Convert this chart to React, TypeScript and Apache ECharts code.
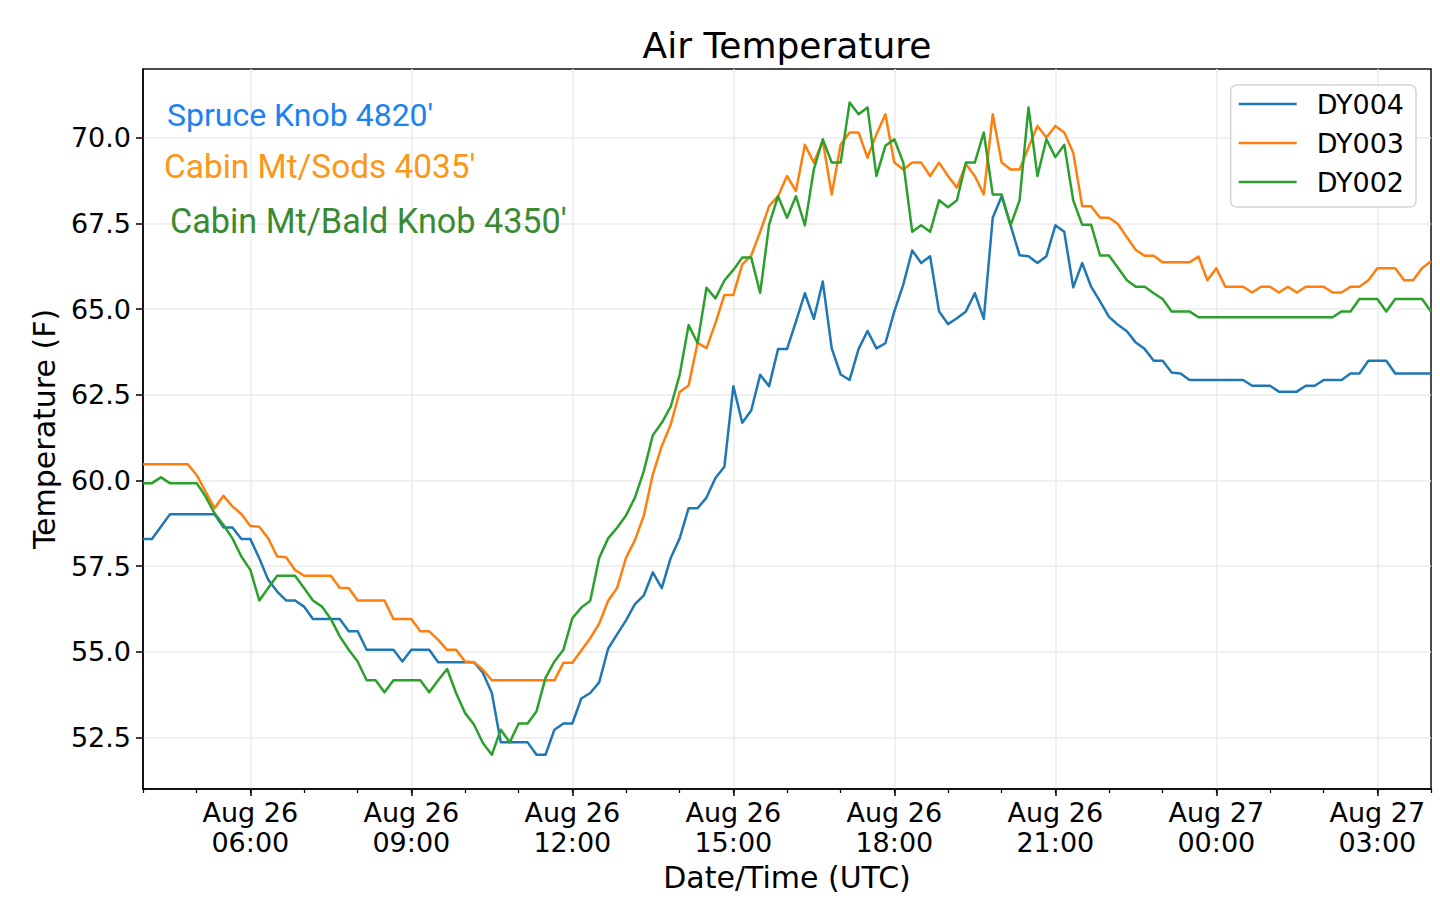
import { useEffect, useRef } from "react";
import * as echarts from "echarts";

// Samples every 10 minutes starting Aug 26 04:00 UTC (x = hours since Aug 26 00:00 UTC)
const START_HOUR = 4;
const STEP_MINUTES = 10;

const SERIES_NAMES = ["DY004", "DY003", "DY002"];
const SERIES_COLORS = ["#1f77b4", "#ff7f0e", "#2ca02c"];

const DY004 = [
  58.29, 58.29, 58.65, 59.01, 59.01, 59.01, 59.01, 59.01, 59.01, 58.63,
  58.63, 58.29, 58.29, 57.73, 57.1, 56.76, 56.5, 56.5, 56.32, 55.96,
  55.96, 55.96, 55.96, 55.6, 55.6, 55.06, 55.06, 55.06, 55.06, 54.72,
  55.06, 55.06, 55.06, 54.7, 54.7, 54.7, 54.7, 54.7, 54.39, 53.8,
  52.36, 52.36, 52.36, 52.36, 52.0, 52.0, 52.73, 52.91, 52.91, 53.64,
  53.8, 54.11, 55.09, 55.51, 55.92, 56.39, 56.65, 57.32, 56.86, 57.74,
  58.31, 59.19, 59.19, 59.5, 60.07, 60.4, 62.75, 61.68, 62.04, 63.08,
  62.75, 63.83, 63.83, 64.63, 65.46, 64.71, 65.8, 63.85, 63.09, 62.93,
  63.83, 64.36, 63.85, 64.0, 64.93, 65.71, 66.71, 66.34, 66.54, 64.93,
  64.56, 64.73, 64.93, 65.46, 64.71, 67.66, 68.29, 67.44, 66.57, 66.54,
  66.34, 66.54, 67.44, 67.25, 65.63, 66.34, 65.65, 65.22, 64.77, 64.54,
  64.35, 64.02, 63.83, 63.49, 63.49, 63.15, 63.12, 62.93, 62.93, 62.93,
  62.93, 62.93, 62.93, 62.93, 62.76, 62.76, 62.76, 62.59, 62.59, 62.59,
  62.76, 62.76, 62.93, 62.93, 62.93, 63.12, 63.12, 63.49, 63.49, 63.49,
  63.12, 63.12, 63.12, 63.12, 63.12,
];

const DY003 = [
  60.47, 60.47, 60.47, 60.47, 60.47, 60.47, 60.16, 59.67, 59.19, 59.55,
  59.24, 59.02, 58.67, 58.65, 58.31, 57.78, 57.76, 57.39, 57.22, 57.22,
  57.22, 57.22, 56.86, 56.86, 56.5, 56.5, 56.5, 56.5, 55.96, 55.96,
  55.96, 55.6, 55.6, 55.35, 55.06, 55.06, 54.72, 54.7, 54.48, 54.17,
  54.17, 54.17, 54.17, 54.17, 54.17, 54.17, 54.17, 54.68, 54.68, 55.04,
  55.4, 55.82, 56.49, 56.86, 57.74, 58.26, 58.98, 60.18, 61.0, 61.63,
  62.58, 62.77, 64.01, 63.86, 64.59, 65.41, 65.41, 66.3, 66.56, 67.25,
  68.0, 68.29, 68.88, 68.44, 69.79, 69.27, 69.9, 68.34, 69.8, 70.15,
  70.15, 69.41, 70.1, 70.68, 69.27, 69.07, 69.27, 69.27, 68.88, 69.27,
  68.88, 68.54, 69.22, 68.88, 68.34, 70.68, 69.27, 69.07, 69.07, 69.71,
  70.34, 70.0, 70.34, 70.15, 69.56, 68.0, 68.0, 67.66, 67.66, 67.48,
  67.09, 66.72, 66.55, 66.55, 66.36, 66.36, 66.36, 66.36, 66.53, 65.84,
  66.19, 65.65, 65.65, 65.65, 65.48, 65.65, 65.65, 65.48, 65.65, 65.48,
  65.65, 65.65, 65.65, 65.48, 65.48, 65.65, 65.65, 65.84, 66.19, 66.19,
  66.19, 65.84, 65.84, 66.19, 66.39,
];

const DY002 = [
  59.92, 59.92, 60.09, 59.92, 59.92, 59.92, 59.92, 59.53, 59.04, 58.7,
  58.31, 57.78, 57.39, 56.5, 56.86, 57.22, 57.22, 57.22, 56.86, 56.5,
  56.32, 55.96, 55.45, 55.06, 54.72, 54.17, 54.17, 53.82, 54.17, 54.17,
  54.17, 54.17, 53.82, 54.17, 54.5, 53.8, 53.22, 52.88, 52.34, 52.0,
  52.73, 52.36, 52.91, 52.91, 53.27, 54.24, 54.72, 55.06, 55.98, 56.29,
  56.49, 57.74, 58.31, 58.62, 58.98, 59.5, 60.28, 61.32, 61.68, 62.15,
  63.08, 64.53, 64.01, 65.62, 65.31, 65.83, 66.14, 66.5, 66.5, 65.47,
  67.46, 68.29, 67.66, 68.29, 67.44, 69.07, 69.95, 69.27, 69.27, 71.02,
  70.68, 70.88, 68.88, 69.76, 69.95, 69.27, 67.25, 67.44, 67.25, 68.17,
  67.97, 68.17, 69.27, 69.27, 70.15, 68.34, 68.34, 67.44, 68.17, 70.88,
  68.88, 69.95, 69.43, 69.79, 68.17, 67.46, 67.46, 66.56, 66.56, 66.2,
  65.84, 65.65, 65.65, 65.46, 65.29, 64.93, 64.93, 64.93, 64.76, 64.76,
  64.76, 64.76, 64.76, 64.76, 64.76, 64.76, 64.76, 64.76, 64.76, 64.76,
  64.76, 64.76, 64.76, 64.76, 64.93, 64.93, 65.29, 65.29, 65.29, 64.93,
  65.29, 65.29, 65.29, 65.29, 64.93,
];

const SERIES_VALUES = [DY004, DY003, DY002];

// Axis ticks (hours since Aug 26 00:00 UTC) and temperature ticks
const X_MIN = 4;
const X_MAX = 28;
const X_MAJOR_TICKS = [6, 9, 12, 15, 18, 21, 24, 27];
const Y_MIN = 51;
const Y_MAX = 72;
const Y_TICKS = [52.5, 55, 57.5, 60, 62.5, 65, 67.5, 70];

const ANNOTATION_TEXTS = ["Spruce Knob 4820'", "Cabin Mt/Sods 4035'", "Cabin Mt/Bald Knob 4350'"];
const ANNOTATION_COLORS = ["#1c82f2", "#fb9719", "#3a8a34"];

const TITLE = "Air Temperature";
const X_NAME = "Date/Time (UTC)";
const Y_NAME = "Temperature (F)";

const FONT = "DejaVu Sans";

function formatXLabel(v: number): string {
  const day = v >= 24 ? 27 : 26;
  const h = Math.round(v) % 24;
  return `Aug ${day}\n${String(h).padStart(2, "0")}:00`;
}

export default function App() {
  const ref = useRef<HTMLDivElement>(null);

  useEffect(() => {
    if (!ref.current) return;
    const chart = echarts.init(ref.current, undefined, { renderer: "svg" });

    const annLayout = [
      { x: 167, y: 114.5, size: 32 },
      { x: 164, y: 166, size: 33.4 },
      { x: 170, y: 220.5, size: 34.2 },
    ];

    const option: any = {
      animation: false,
      backgroundColor: "#ffffff",
      title: {
        text: TITLE,
        left: 787,
        top: 27,
        textAlign: "center",
        padding: 0,
        textStyle: { fontFamily: FONT, fontSize: 36, fontWeight: "normal", color: "#000" },
      },
      grid: {
        left: 143,
        right: 9,
        top: 69,
        bottom: 125,
        containLabel: false,
        outerBoundsMode: "none",
        show: true,
        borderColor: "#111",
        borderWidth: 1.5,
        backgroundColor: "transparent",
      },
      legend: {
        data: SERIES_NAMES,
        orient: "vertical",
        right: 24,
        top: 85,
        icon: "rect",
        itemWidth: 58,
        itemHeight: 2.5,
        itemGap: 9,
        padding: [4, 12, 10, 8],
        backgroundColor: "rgba(255,255,255,0.85)",
        borderColor: "#d4d4d4",
        borderWidth: 1.5,
        borderRadius: 6,
        textStyle: {
          fontFamily: FONT,
          fontSize: 27,
          color: "#000",
          lineHeight: 30,
          padding: [0, 0, 0, 15],
        },
      },
      xAxis: [
        {
          type: "value",
          min: X_MIN,
          max: X_MAX,
          name: X_NAME,
          nameLocation: "middle",
          nameGap: 73,
          nameTextStyle: { fontFamily: FONT, fontSize: 30, color: "#000" },
          axisLine: { show: true, onZero: false, lineStyle: { color: "#000", width: 1.5 } },
          axisTick: {
            show: true,
            customValues: X_MAJOR_TICKS,
            length: 7,
            lineStyle: { color: "#000", width: 1.5 },
          },
          axisLabel: {
            show: true,
            customValues: X_MAJOR_TICKS,
            formatter: formatXLabel,
            fontFamily: FONT,
            fontSize: 27,
            lineHeight: 29.5,
            color: "#000",
            margin: 9,
          },
          splitLine: { show: true, lineStyle: { color: "#ebebeb", width: 1.5 } },
        },
        {
          type: "value",
          min: X_MIN,
          max: X_MAX,
          interval: 1,
          position: "bottom",
          axisLine: { show: false },
          axisTick: { show: true, length: 4, lineStyle: { color: "#000", width: 1.2 } },
          axisLabel: { show: false },
          splitLine: { show: false },
        },
      ],
      yAxis: {
        type: "value",
        min: Y_MIN,
        max: Y_MAX,
        name: Y_NAME,
        nameLocation: "middle",
        nameGap: 84,
        nameRotate: 90,
        nameTextStyle: { fontFamily: FONT, fontSize: 30, color: "#000" },
        axisLine: { show: true, onZero: false, lineStyle: { color: "#000", width: 1.5 } },
        axisTick: {
          show: true,
          customValues: Y_TICKS,
          length: 7,
          lineStyle: { color: "#000", width: 1.5 },
        },
        axisLabel: {
          show: true,
          customValues: Y_TICKS,
          formatter: (v: number) => v.toFixed(1),
          fontFamily: FONT,
          fontSize: 27,
          color: "#000",
          margin: 12,
        },
        splitLine: { show: true, lineStyle: { color: "#ebebeb", width: 1.5 } },
      },
      series: SERIES_NAMES.map((name, si) => ({
        name,
        type: "line",
        xAxisIndex: 0,
        symbol: "none",
        showSymbol: false,
        clip: true,
        lineStyle: { color: SERIES_COLORS[si], width: 2.5, join: "round" },
        itemStyle: { color: SERIES_COLORS[si] },
        data: SERIES_VALUES[si].map((v, i) => [START_HOUR + (i * STEP_MINUTES) / 60, v]),
      })),
      graphic: ANNOTATION_TEXTS.map((text, i) => ({
        type: "text",
        x: annLayout[i].x,
        y: annLayout[i].y,
        z: 100,
        style: {
          text,
          fill: ANNOTATION_COLORS[i],
          fontFamily: "Roboto",
          fontSize: annLayout[i].size,
          align: "left",
          verticalAlign: "middle",
        },
      })),
    };

    chart.setOption(option);
    return () => chart.dispose();
  }, []);

  return (
    <div
      ref={ref}
      style={{ position: "absolute", left: 0, top: 0, width: 1440, height: 914, background: "#fff" }}
    />
  );
}
